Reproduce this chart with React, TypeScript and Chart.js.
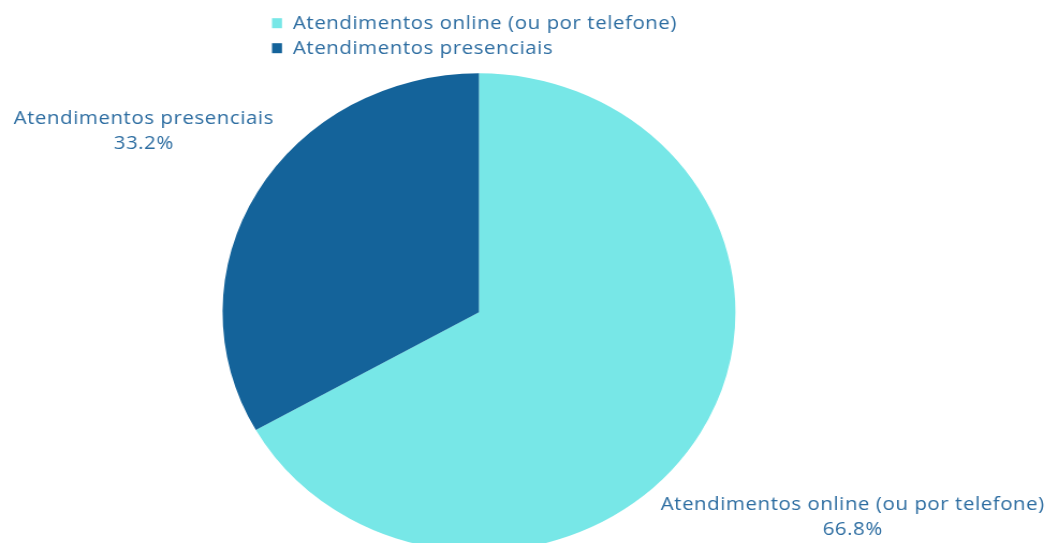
import React, { useEffect, useRef } from "react";
import { Chart, registerables } from "chart.js";

Chart.register(...registerables);

const categories = ["Atendimentos online (ou por telefone)", "Atendimentos presenciais"];
const values = [66.8, 33.2];
const colors = ["#77E7E7", "#14639A"];
const labelDistance = [1.687, 1.513];

const TEXT_COLOR = "#2D6DA1";
const FONT = '19px "Open Sans", sans-serif';
const LETTER_SPACING = "0.55px";
const SX = 1.073;
const W = Math.round(1057 / SX);
const H = 560;

const labelsPlugin = {
  id: "outsideLabels",
  afterDraw(chart: any) {
    const ctx = chart.ctx;
    const meta = chart.getDatasetMeta(0);
    const total = values.reduce((a, b) => a + b, 0);
    ctx.save();
    ctx.font = FONT;
    (ctx as any).letterSpacing = LETTER_SPACING;
    ctx.fillStyle = TEXT_COLOR;
    ctx.textBaseline = "alphabetic";
    // slice labels
    meta.data.forEach((arc: any, i: number) => {
      const p = arc.getProps(["x", "y", "startAngle", "endAngle", "outerRadius"], true);
      const mid = (p.startAngle + p.endAngle) / 2;
      const d = p.outerRadius * labelDistance[i];
      const cx = p.x + Math.cos(mid) * d;
      const cy = p.y + Math.sin(mid) * d;
      ctx.textAlign = "center";
      const pct = ((values[i] / total) * 100).toFixed(1) + "%";
      ctx.fillText(categories[i], cx, cy - 5.8);
      ctx.fillText(pct, cx, cy + 19.2);
    });
    // legend
    ctx.textAlign = "left";
    categories.forEach((c, i) => {
      const base = 28.7 + i * 25;
      ctx.fillStyle = colors[i];
      ctx.fillRect(253.5, base - 10.5, 9.3, 10);
      ctx.fillStyle = TEXT_COLOR;
      ctx.fillText(c, 273, base);
    });
    ctx.restore();
  },
};

export default function App() {
  const ref = useRef<HTMLCanvasElement>(null);
  useEffect(() => {
    const canvas = ref.current!;
    const radius = 239;
    const cx = 446.4;
    const cy = 312.3;
    const chart = new Chart(canvas, {
      type: "pie",
      data: {
        labels: categories,
        datasets: [
          {
            data: values,
            backgroundColor: colors,
            borderWidth: 0,
          },
        ],
      },
      options: {
        animation: false,
        responsive: false,
        devicePixelRatio: 1,
        layout: {
          padding: {
            top: cy - radius,
            bottom: H - (cy + radius),
            left: cx - radius,
            right: W - (cx + radius),
          },
        },
        plugins: {
          legend: { display: false },
          tooltip: { enabled: false },
        },
      },
      plugins: [labelsPlugin],
    });
    return () => chart.destroy();
  }, []);

  return (
    <div
      style={{
        position: "absolute",
        left: 0,
        top: 0,
        width: 1057,
        height: 543,
        overflow: "hidden",
        background: "#fff",
      }}
    >
      <canvas
        ref={ref}
        width={W}
        height={H}
        style={{
          width: W,
          height: H,
          display: "block",
          transform: `scaleX(${SX})`,
          transformOrigin: "0 0",
        }}
      />
    </div>
  );
}
